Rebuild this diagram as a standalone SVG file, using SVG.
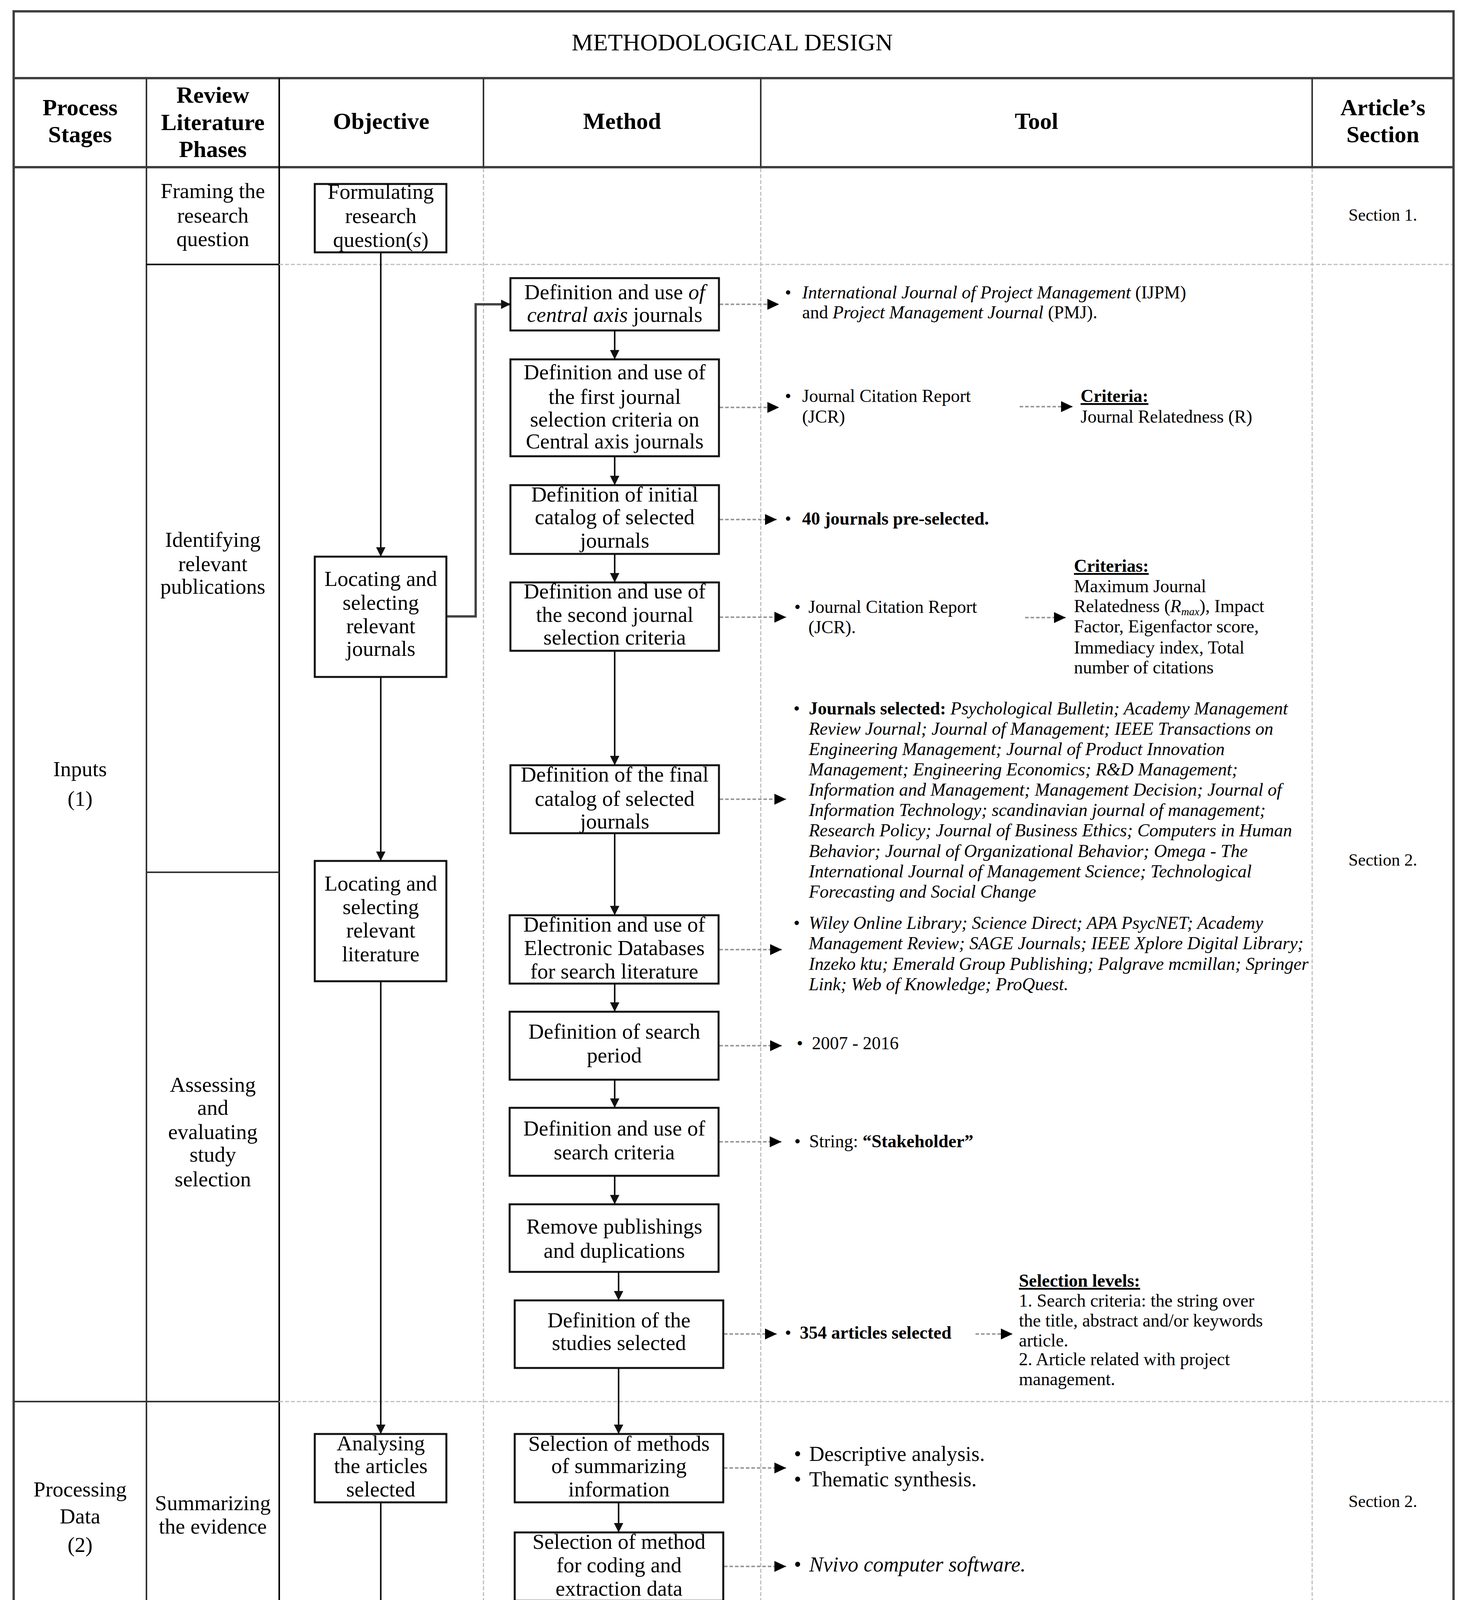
<svg xmlns="http://www.w3.org/2000/svg" width="3736" height="4547" viewBox="0 0 3736 4547">
<defs>
<style>
text{font-family:"Liberation Serif","Times New Roman",serif;fill:#000}
.c{text-anchor:middle}
.n{font-size:55px}
.hd{font-size:60px;font-weight:bold}
.ti{font-size:62px}
.tl{font-size:46px}
.tb{font-size:54px}
.sec{font-size:44px}
.i{font-style:italic}
.b{font-weight:bold}
.u{text-decoration:underline}
.box{fill:#fff;stroke:#111;stroke-width:5}
.frame{fill:none;stroke:#404040;stroke-width:6}
.sol{stroke:#333;stroke-width:4;fill:none}
.solk{stroke:#000;stroke-width:4;fill:none}
.dash{stroke:#bdbdbd;stroke-width:3;stroke-dasharray:10 5;fill:none}
.flow{stroke:#111;stroke-width:4;fill:none;marker-end:url(#ah)}
.elbow{stroke:#444;stroke-width:6;fill:none;marker-end:url(#ah)}
.tarr{stroke:#9a9a9a;stroke-width:4;stroke-dasharray:9 5;fill:none;marker-end:url(#at)}
</style>
<marker id="ah" viewBox="0 0 24 24" refX="24" refY="12" markerWidth="24" markerHeight="24" markerUnits="userSpaceOnUse" orient="auto">
<path d="M0,0 L24,12 L0,24 z" fill="#111"/>
</marker>
<marker id="at" viewBox="0 0 30 28" refX="30" refY="14" markerWidth="30" markerHeight="28" markerUnits="userSpaceOnUse" orient="auto">
<path d="M0,0 L30,14 L0,28 z" fill="#000"/>
</marker>
</defs>
<rect x="0" y="0" width="3736" height="4547" fill="#fff"/>

<g id="table">
<rect class="frame" x="35" y="29" width="3687" height="4483"/>
<line class="frame" x1="35" y1="200" x2="3722" y2="200"/>
<line class="frame" x1="35" y1="428" x2="3722" y2="428"/>
<line class="sol" x1="375" y1="200" x2="375" y2="4512"/>
<line class="solk" x1="715" y1="200" x2="715" y2="4512"/>
<line class="sol" x1="1238" y1="200" x2="1238" y2="428"/>
<line class="sol" x1="1948" y1="200" x2="1948" y2="428"/>
<line class="sol" x1="3360" y1="200" x2="3360" y2="428"/>
<line class="dash" x1="1238" y1="431" x2="1238" y2="4509"/>
<line class="dash" x1="1948" y1="431" x2="1948" y2="4509"/>
<line class="dash" x1="3360" y1="431" x2="3360" y2="4509"/>
<line class="solk" x1="375" y1="677" x2="715" y2="677"/>
<line class="sol" x1="375" y1="2233" x2="715" y2="2233"/>
<line class="sol" x1="35" y1="3588" x2="715" y2="3588"/>
<line class="sol" x1="35" y1="4182" x2="715" y2="4182"/>
<line class="dash" x1="715" y1="677" x2="3719" y2="677"/>
<line class="dash" x1="715" y1="3588" x2="3719" y2="3588"/>
<line class="dash" x1="715" y1="4182" x2="3719" y2="4182"/>
</g>

<g id="headers">
<text class="ti c" x="1875" y="129">METHODOLOGICAL DESIGN</text>
<text class="hd c" x="205" y="295">Process</text>
<text class="hd c" x="205" y="364">Stages</text>
<text class="hd c" x="545" y="263">Review</text>
<text class="hd c" x="545" y="333">Literature</text>
<text class="hd c" x="545" y="402">Phases</text>
<text class="hd c" x="976" y="330">Objective</text>
<text class="hd c" x="1593" y="330">Method</text>
<text class="hd c" x="2654" y="330">Tool</text>
<text class="hd c" x="3541" y="295">Article’s</text>
<text class="hd c" x="3541" y="364">Section</text>
</g>

<g id="stages">
<text class="n c" x="205" y="1987">Inputs</text>
<text class="n c" x="205" y="2063">(1)</text>
<text class="n c" x="205" y="3831">Processing</text>
<text class="n c" x="205" y="3900">Data</text>
<text class="n c" x="205" y="3973">(2)</text>
<text class="n c" x="205" y="4325">Outputs</text>
<text class="n c" x="205" y="4398">(3)</text>
</g>

<g id="phases">
<text class="n c" x="545" y="507">Framing the</text>
<text class="n c" x="545" y="570">research</text>
<text class="n c" x="545" y="630">question</text>
<text class="n c" x="545" y="1400">Identifying</text>
<text class="n c" x="545" y="1462">relevant</text>
<text class="n c" x="545" y="1520">publications</text>
<text class="n c" x="545" y="2795">Assessing</text>
<text class="n c" x="545" y="2854">and</text>
<text class="n c" x="545" y="2916">evaluating</text>
<text class="n c" x="545" y="2974">study</text>
<text class="n c" x="545" y="3037">selection</text>
<text class="n c" x="545" y="3866">Summarizing</text>
<text class="n c" x="545" y="3926">the evidence</text>
<text class="n c" x="545" y="4265">Interpreting</text>
<text class="n c" x="545" y="4325">the findings</text>
<text class="n c" x="545" y="4386">and</text>
<text class="n c" x="545" y="4446">discussion</text>
</g>

<g id="sections">
<text class="sec c" x="3541" y="565">Section 1.</text>
<text class="sec c" x="3541" y="2216">Section 2.</text>
<text class="sec c" x="3541" y="3858">Section 2.</text>
<text class="sec c" x="3541" y="4405">Section 3.</text>
</g>

<g id="connectors">
<line class="flow" x1="975" y1="646" x2="975" y2="1425"/>
<line class="flow" x1="975" y1="1733" x2="975" y2="2204"/>
<line class="flow" x1="975" y1="2512" x2="975" y2="3671"/>
<line class="flow" x1="975" y1="3846" x2="975" y2="4241"/>
<path class="elbow" d="M1143,1578 H1218 V779 H1307"/>
<line class="flow" x1="1574" y1="846" x2="1574" y2="920"/>
<line class="flow" x1="1574" y1="1168" x2="1574" y2="1242"/>
<line class="flow" x1="1574" y1="1418" x2="1574" y2="1491"/>
<line class="flow" x1="1574" y1="1666" x2="1574" y2="1959"/>
<line class="flow" x1="1574" y1="2133" x2="1574" y2="2343"/>
<line class="flow" x1="1574" y1="2518" x2="1574" y2="2590"/>
<line class="flow" x1="1574" y1="2764" x2="1574" y2="2836"/>
<line class="flow" x1="1574" y1="3010" x2="1574" y2="3083"/>
<line class="flow" x1="1584" y1="3256" x2="1584" y2="3329"/>
<line class="flow" x1="1584" y1="3502" x2="1584" y2="3671"/>
<line class="flow" x1="1584" y1="3846" x2="1584" y2="3923"/>
<line class="tarr" x1="1843" y1="779" x2="1995" y2="779"/>
<line class="tarr" x1="1843" y1="1043" x2="1995" y2="1043"/>
<line class="tarr" x1="1843" y1="1330" x2="1989" y2="1330"/>
<line class="tarr" x1="1843" y1="1580" x2="2013" y2="1580"/>
<line class="tarr" x1="1843" y1="2046" x2="2013" y2="2046"/>
<line class="tarr" x1="1842" y1="2431" x2="2002" y2="2431"/>
<line class="tarr" x1="1842" y1="2677" x2="2002" y2="2677"/>
<line class="tarr" x1="1842" y1="2923" x2="2001" y2="2923"/>
<line class="tarr" x1="1854" y1="3415" x2="1989" y2="3415"/>
<line class="tarr" x1="1854" y1="3758" x2="2013" y2="3758"/>
<line class="tarr" x1="1854" y1="4010" x2="2013" y2="4010"/>
<line class="tarr" x1="2611" y1="1041" x2="2747" y2="1041"/>
<line class="tarr" x1="2625" y1="1581" x2="2729" y2="1581"/>
<line class="tarr" x1="2498" y1="3415" x2="2593" y2="3415"/>
</g>

<g id="obj-formulating">
<rect class="box" x="806" y="471" width="337" height="175"/>
<text class="n c" x="975" y="509">Formulating</text>
<text class="n c" x="975" y="571">research</text>
<text class="n c" x="975" y="632">question(<tspan class="i">s</tspan>)</text>
</g>
<g id="obj-journals">
<rect class="box" x="806" y="1425" width="337" height="308"/>
<text class="n c" x="975" y="1500">Locating and</text>
<text class="n c" x="975" y="1561">selecting</text>
<text class="n c" x="975" y="1621">relevant</text>
<text class="n c" x="975" y="1679">journals</text>
</g>
<g id="obj-literature">
<rect class="box" x="806" y="2204" width="337" height="308"/>
<text class="n c" x="975" y="2280">Locating and</text>
<text class="n c" x="975" y="2340">selecting</text>
<text class="n c" x="975" y="2400">relevant</text>
<text class="n c" x="975" y="2461">literature</text>
</g>
<g id="obj-analysing">
<rect class="box" x="806" y="3671" width="337" height="175"/>
<text class="n c" x="975" y="3713">Analysing</text>
<text class="n c" x="975" y="3771">the articles</text>
<text class="n c" x="975" y="3831">selected</text>
</g>
<g id="obj-reporting">
<rect class="box" x="806" y="4241" width="337" height="175"/>
<text class="n c" x="975" y="4313">Reporting the</text>
<text class="n c" x="975" y="4373">findings</text>
</g>

<g id="m1">
<rect class="box" x="1307" y="712" width="534" height="134"/>
<text class="n c" x="1574" y="766">Definition and use <tspan class="i">of</tspan></text>
<text class="n c" x="1574" y="824"><tspan class="i">central axis</tspan> journals</text>
</g>
<g id="m2">
<rect class="box" x="1307" y="920" width="534" height="248"/>
<text class="n c" x="1574" y="971">Definition and use of</text>
<text class="n c" x="1574" y="1034">the first journal</text>
<text class="n c" x="1574" y="1092">selection criteria on</text>
<text class="n c" x="1574" y="1148">Central axis journals</text>
</g>
<g id="m3">
<rect class="box" x="1307" y="1242" width="534" height="176"/>
<text class="n c" x="1574" y="1284">Definition of initial</text>
<text class="n c" x="1574" y="1342">catalog of selected</text>
<text class="n c" x="1574" y="1402">journals</text>
</g>
<g id="m4">
<rect class="box" x="1307" y="1491" width="534" height="175"/>
<text class="n c" x="1574" y="1532">Definition and use of</text>
<text class="n c" x="1574" y="1592">the second journal</text>
<text class="n c" x="1574" y="1650">selection criteria</text>
</g>
<g id="m5">
<rect class="box" x="1307" y="1959" width="534" height="174"/>
<text class="n c" x="1574" y="2001">Definition of the final</text>
<text class="n c" x="1574" y="2063">catalog of selected</text>
<text class="n c" x="1574" y="2121">journals</text>
</g>
<g id="m6">
<rect class="box" x="1305" y="2343" width="535" height="175"/>
<text class="n c" x="1573" y="2385">Definition and use of</text>
<text class="n c" x="1573" y="2445">Electronic Databases</text>
<text class="n c" x="1573" y="2505">for search literature</text>
</g>
<g id="m7">
<rect class="box" x="1305" y="2590" width="535" height="174"/>
<text class="n c" x="1573" y="2659">Definition of search</text>
<text class="n c" x="1573" y="2720">period</text>
</g>
<g id="m8">
<rect class="box" x="1305" y="2836" width="535" height="174"/>
<text class="n c" x="1573" y="2907">Definition and use of</text>
<text class="n c" x="1573" y="2968">search criteria</text>
</g>
<g id="m9">
<rect class="box" x="1305" y="3083" width="535" height="173"/>
<text class="n c" x="1573" y="3158">Remove publishings</text>
<text class="n c" x="1573" y="3220">and duplications</text>
</g>
<g id="m10">
<rect class="box" x="1318" y="3329" width="534" height="173"/>
<text class="n c" x="1585" y="3398">Definition of the</text>
<text class="n c" x="1585" y="3456">studies selected</text>
</g>
<g id="m11">
<rect class="box" x="1318" y="3671" width="534" height="175"/>
<text class="n c" x="1585" y="3714">Selection of methods</text>
<text class="n c" x="1585" y="3771">of summarizing</text>
<text class="n c" x="1585" y="3831">information</text>
</g>
<g id="m12">
<rect class="box" x="1318" y="3923" width="534" height="175"/>
<text class="n c" x="1585" y="3965">Selection of method</text>
<text class="n c" x="1585" y="4025">for coding and</text>
<text class="n c" x="1585" y="4085">extraction data</text>
</g>

<g id="tool-central">
<text class="tl" x="2010" y="764">•</text>
<text class="tl" x="2054" y="764"><tspan class="i">International Journal of Project Management</tspan> (IJPM)</text>
<text class="tl" x="2054" y="815">and <tspan class="i">Project Management Journal</tspan> (PMJ).</text>
</g>
<g id="tool-jcr1">
<text class="tl" x="2010" y="1029">•</text>
<text class="tl" x="2054" y="1029">Journal Citation Report</text>
<text class="tl" x="2054" y="1082">(JCR)</text>
<text class="tl b u" x="2767" y="1029">Criteria:</text>
<text class="tl" x="2767" y="1082">Journal Relatedness (R)</text>
</g>
<g id="tool-40">
<text class="tl" x="2010" y="1343">•</text>
<text class="tl b" x="2054" y="1343">40 journals pre-selected.</text>
</g>
<g id="tool-jcr2">
<text class="tl" x="2034" y="1569">•</text>
<text class="tl" x="2070" y="1569">Journal Citation Report</text>
<text class="tl" x="2070" y="1621">(JCR).</text>
<text class="tl b u" x="2750" y="1464">Criterias:</text>
<text class="tl" x="2750" y="1516">Maximum Journal</text>
<text class="tl" x="2750" y="1567">Relatedness (<tspan class="i">R<tspan font-size="28" dy="8">max</tspan></tspan><tspan dy="-8">), Impact</tspan></text>
<text class="tl" x="2750" y="1619">Factor, Eigenfactor score,</text>
<text class="tl" x="2750" y="1673">Immediacy index, Total</text>
<text class="tl" x="2750" y="1724">number of citations</text>
</g>
<g id="tool-journals">
<text class="tl" x="2032" y="1829">•</text>
<text class="tl" x="2071" y="1829"><tspan class="b">Journals selected: </tspan><tspan class="i">Psychological Bulletin; Academy Management</tspan></text>
<text class="tl i" x="2071" y="1881">Review Journal; Journal of Management; IEEE Transactions on</text>
<text class="tl i" x="2071" y="1933">Engineering Management; Journal of Product Innovation</text>
<text class="tl i" x="2071" y="1985">Management; Engineering Economics; R&amp;D Management;</text>
<text class="tl i" x="2071" y="2037">Information and Management; Management Decision; Journal of</text>
<text class="tl i" x="2071" y="2089">Information Technology; scandinavian journal of management;</text>
<text class="tl i" x="2071" y="2141">Research Policy; Journal of Business Ethics; Computers in Human</text>
<text class="tl i" x="2071" y="2194">Behavior; Journal of Organizational Behavior; Omega - The</text>
<text class="tl i" x="2071" y="2246">International Journal of Management Science; Technological</text>
<text class="tl i" x="2071" y="2298">Forecasting and Social Change</text>
</g>
<g id="tool-databases">
<text class="tl" x="2032" y="2378">•</text>
<text class="tl i" x="2071" y="2378">Wiley Online Library; Science Direct; APA PsycNET; Academy</text>
<text class="tl i" x="2071" y="2430">Management Review; SAGE Journals; IEEE Xplore Digital Library;</text>
<text class="tl i" x="2071" y="2483">Inzeko ktu; Emerald Group Publishing; Palgrave mcmillan; Springer</text>
<text class="tl i" x="2071" y="2535">Link; Web of Knowledge; ProQuest.</text>
</g>
<g id="tool-period">
<text class="tl" x="2040" y="2686">•</text>
<text class="tl" x="2079" y="2686">2007 - 2016</text>
</g>
<g id="tool-string">
<text class="tl" x="2034" y="2937">•</text>
<text class="tl" x="2072" y="2937">String: <tspan class="b">“Stakeholder”</tspan></text>
</g>
<g id="tool-354">
<text class="tl" x="2010" y="3427">•</text>
<text class="tl b" x="2048" y="3427">354 articles selected</text>
<text class="tl b u" x="2609" y="3294">Selection levels:</text>
<text class="tl" x="2609" y="3345">1. Search criteria: the string over</text>
<text class="tl" x="2609" y="3396">the title, abstract and/or keywords</text>
<text class="tl" x="2609" y="3447">article.</text>
<text class="tl" x="2609" y="3495">2. Article related with project</text>
<text class="tl" x="2609" y="3546">management.</text>
</g>
<g id="tool-summarizing">
<text class="tb" x="2033" y="3740">•</text>
<text class="tb" x="2072" y="3740">Descriptive analysis.</text>
<text class="tb" x="2033" y="3805">•</text>
<text class="tb" x="2072" y="3805">Thematic synthesis.</text>
</g>
<g id="tool-nvivo">
<text class="tb" x="2033" y="4023">•</text>
<text class="tb i" x="2072" y="4023">Nvivo computer software.</text>
</g>
</svg>
